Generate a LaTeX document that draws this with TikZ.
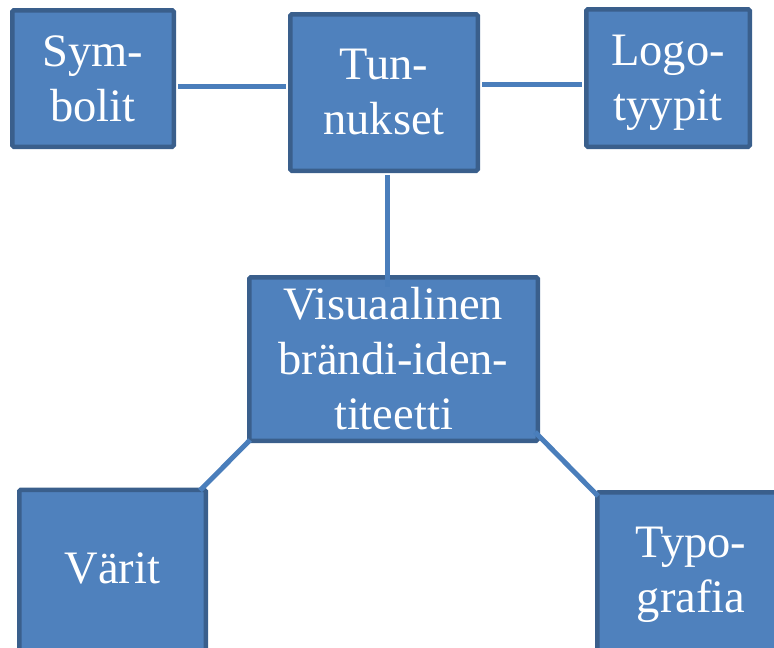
\documentclass[tikz,border=0pt]{standalone}
\usepackage{fontspec}
\setmainfont{Liberation Serif}
\definecolor{boxfill}{HTML}{4F81BD}
\definecolor{boxline}{HTML}{3A5F8C}
\definecolor{conn}{HTML}{4A7EBB}
\tikzset{
  box/.style={rectangle, draw=boxline, fill=boxfill, line width=4.5pt,
    rounded corners=1.5pt, text=white, align=center, inner sep=0pt,
    font=\fontsize{46.5}{55}\selectfont},
  link/.style={draw=conn, line width=5pt}
}
\begin{document}
\begin{tikzpicture}[x=1pt,y=-1pt]
\useasboundingbox (0,0) rectangle (774,648);
\clip (0,0) rectangle (774,648);
\node[box, minimum width=161.5pt, minimum height=136.5pt] (sym) at (93,78.5) {Sym-\\bolit};
\node[box, minimum width=187.5pt, minimum height=156.5pt] (tun) at (384,92.5) {Tun-\\nukset};
\node[box, minimum width=163.5pt, minimum height=137.5pt] (logo) at (668,78) {Logo-\\\raisebox{0pt}[\height][0pt]{tyypit}};
\node[box, minimum width=288.5pt, minimum height=163.5pt] (vis) at (393.5,359) {Visuaalinen\\brändi-iden-\\titeetti};
\node[box, minimum width=186.5pt, minimum height=166.5pt] (var) at (112.5,573) {\raisebox{0pt}[\height][10pt]{Värit}};
\node[box, minimum width=187.5pt, minimum height=164.5pt] (typ) at (691,574.5) {Typo-\\\raisebox{0pt}[\height][10pt]{grafia}};
\coordinate (symR) at (sym.east |- 0,86.5);
\coordinate (tunL) at (tun.west |- 0,86.5);
\coordinate (tunR) at (tun.east |- 0,84);
\coordinate (logoL) at (logo.west |- 0,84);
\coordinate (tunB) at (387,0 |- tun.south);
\coordinate (visT) at (387,0 |- vis.north);
\draw[link] ([xshift=2pt]symR) -- ([xshift=-2pt]tunL);
\draw[link] ([xshift=2pt]tunR) -- ([xshift=-2pt]logoL);
\draw[link] ([yshift=-2pt]tunB) -- ([yshift=-12pt]visT);
\draw[link] ([shift={(3pt,3pt)}]vis.south west) -- ([shift={(-8pt,-3pt)}]var.north east);
\draw[link] ([shift={(-5pt,11pt)}]vis.south east) -- ([shift={(3pt,-6pt)}]typ.north west);
\end{tikzpicture}
\end{document}
